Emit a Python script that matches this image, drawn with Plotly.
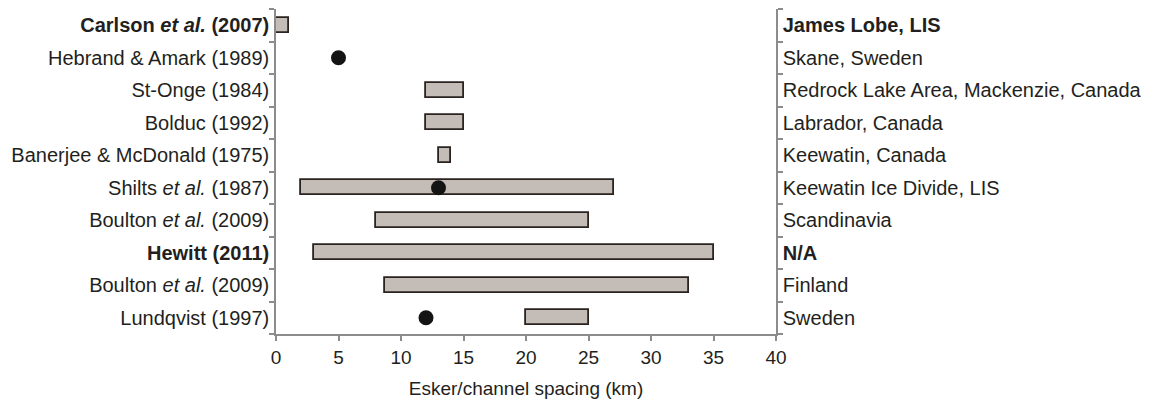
import plotly.graph_objects as go

# Studies (top to bottom), their study areas, and reported esker/channel spacing
studies = [
    "<b>Carlson <i>et al.</i> (2007)</b>",
    "Hebrand &amp; Amark (1989)",
    "St-Onge (1984)",
    "Bolduc (1992)",
    "Banerjee &amp; McDonald (1975)",
    "Shilts <i>et al.</i> (1987)",
    "Boulton <i>et al.</i> (2009)",
    "<b>Hewitt (2011)</b>",
    "Boulton <i>et al.</i> (2009)",
    "Lundqvist (1997)",
]
regions = [
    "<b>James Lobe, LIS</b>",
    "Skane, Sweden",
    "Redrock Lake Area, Mackenzie, Canada",
    "Labrador, Canada",
    "Keewatin, Canada",
    "Keewatin Ice Divide, LIS",
    "Scandinavia",
    "<b>N/A</b>",
    "Finland",
    "Sweden",
]
# spacing ranges in km (None where only a single value is reported)
range_min = [0, None, 12, 12, 13, 2, 8, 3, 8.7, 20]
range_max = [1, None, 15, 15, 14, 27, 25, 35, 33, 25]
# single reported spacing values in km
point_val = [None, 5, None, None, None, 13, None, None, None, 12]

n = len(studies)
ypos = [n - 1 - i for i in range(n)]

bar_y = [y for y, a in zip(ypos, range_min) if a is not None]
bar_base = [a for a in range_min if a is not None]
bar_len = [b - a for a, b in zip(range_min, range_max) if a is not None]
pt_y = [y for y, v in zip(ypos, point_val) if v is not None]
pt_x = [v for v in point_val if v is not None]

text_col = "#231f20"
axis_col = "#8c8c8c"
font_family = "Liberation Sans, Arial, sans-serif"

fig = go.Figure()
fig.add_trace(go.Bar(
    y=bar_y, x=bar_len, base=bar_base, orientation="h", width=0.45,
    marker=dict(color="#c4bcb7", line=dict(color="#2a2320", width=1.8)),
    showlegend=False, hoverinfo="skip",
))
fig.add_trace(go.Scatter(
    y=pt_y, x=pt_x, mode="markers",
    marker=dict(color="#141414", size=15, line=dict(width=0)),
    showlegend=False, hoverinfo="skip",
))
# invisible trace to anchor the right-hand axis
fig.add_trace(go.Scatter(
    y=ypos, x=[None] * n, yaxis="y2", mode="markers",
    showlegend=False, hoverinfo="skip",
))

boundaries = [i - 0.5 for i in range(n + 1)]
yaxis_common = dict(
    range=[-0.5, n - 0.5],
    tickmode="array",
    tickvals=ypos,
    ticks="",
    showline=True, linecolor=axis_col, linewidth=1.5,
    showgrid=False, zeroline=False, automargin=False,
    tickfont=dict(size=20, color=text_col, family=font_family),
    ticklabelstandoff=1,
    minor=dict(tickmode="array", tickvals=boundaries, ticks="outside",
               ticklen=5, tickcolor=axis_col, tickwidth=1.5, showgrid=False),
)

fig.update_layout(
    width=1155, height=401,
    margin=dict(l=276, r=379, t=9, b=67),
    paper_bgcolor="white", plot_bgcolor="white",
    bargap=0,
    xaxis=dict(
        range=[0, 40], tickvals=[0, 5, 10, 15, 20, 25, 30, 35, 40],
        ticks="outside", ticklen=5, tickcolor=axis_col, tickwidth=1.5,
        showline=True, linecolor=axis_col, linewidth=1.5,
        showgrid=False, zeroline=False, automargin=False,
        tickfont=dict(size=19, color=text_col, family=font_family),
        title=dict(text="Esker/channel spacing (km)", standoff=15,
                   font=dict(size=19, color=text_col, family=font_family)),
    ),
    yaxis=dict(ticktext=studies, side="left", **yaxis_common),
    yaxis2=dict(ticktext=regions, side="right", overlaying="y", anchor="x",
                **yaxis_common),
)

fig.write_html("out.html")
